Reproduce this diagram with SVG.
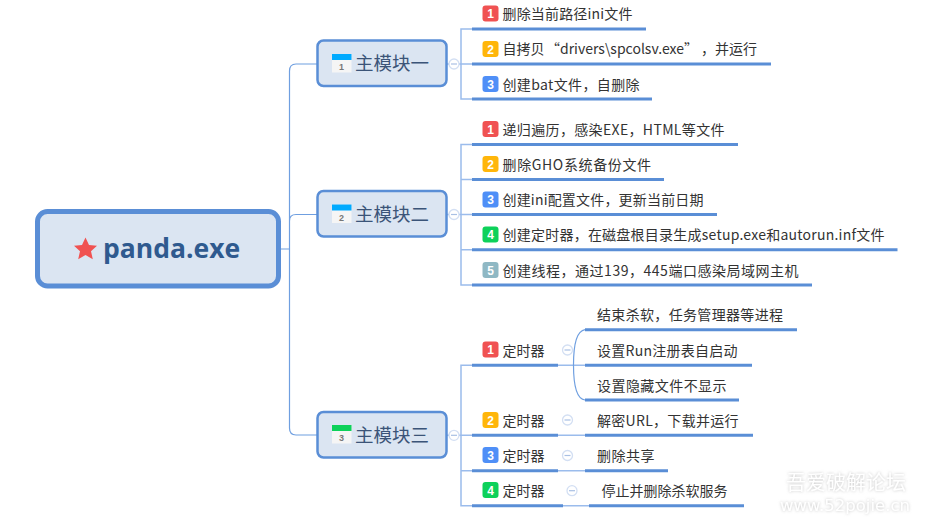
<svg xmlns="http://www.w3.org/2000/svg" width="925" height="524" viewBox="0 0 925 524">
<style>
text{font-family:"Noto Sans CJK SC","Noto Sans",sans-serif}
.root{fill:#dbe5f2;stroke:#5a8ed6;stroke-width:5}
.mod{fill:#dbe5f2;stroke:#5a8ed6;stroke-width:2.5}
.mt{font-size:18.5px;fill:#3b5478}
.lt{font-size:14px;fill:#333}
.ul{stroke:#5a8ed6;stroke-width:3;fill:none}
.c1{stroke:#6f9fe0;stroke-width:1.2;fill:none}
.c2{stroke:#9bbcec;stroke-width:1.5;fill:none}
.bn{font-family:"Liberation Sans",sans-serif;font-size:12px;font-weight:bold;fill:#fff;text-anchor:middle}
.tog{fill:#fff;stroke:#d3dff3;stroke-width:1.3}
.togm{stroke:#a9c0e4;stroke-width:1.2}
.ib{fill:#f5f5f5}
.in{font-family:"Liberation Sans",sans-serif;font-size:9px;font-weight:bold;fill:#777;text-anchor:middle}
.r{fill:#f05252}.o{fill:#ffb60a}.b{fill:#4f8ff7}.g{fill:#0dd15a}.t{fill:#8fb8c4}
.wm{fill:#fff;filter:url(#sh);text-anchor:middle}
</style>
<defs>
<filter id="sh" x="-10%" y="-30%" width="120%" height="160%"><feDropShadow dx="0" dy="0" stdDeviation="1.8" flood-color="#aaa" flood-opacity="0.7"/></filter>
</defs>
<rect width="925" height="524" fill="#fff"/>
<g id="connectors">
<path class="c1" d="M281 249H289.5M317 64H296Q289.5 64 289.5 71V428Q289.5 435 296 435H317M317 214.500H296Q289.500 214.500 289.500 221"/>
<path class="c2" d="M447 64H461M472 29H461V99H472M461 64H472"/>
<path class="c2" d="M447 214.500H461M472 144.500H461V285H472M461 179.500H472M461 214.500H472M461 249.800H472"/>
<path class="c2" d="M447 435.300H461M472 365.300H461V505.800H472M461 435.300H472M461 470.700H472"/>
<path class="c2" d="M558 365.300H585M558 435.300H585M558 470.700H585M563 505.800H589"/>
<path class="c1" d="M585 329.700C576 331 573.500 345 573.500 365C573.500 385 576 399 585 400"/>
</g>
<g id="root"><rect class="root" x="37.500" y="211.500" width="241" height="74.500" rx="10"/>
<path class="r" d="M85.500 237.500l3.500 7.500 8 .8-6 5.400 1.800 8-7.300-4.200-7.300 4.200 1.800-8-6-5.400 8-.8z"/>
<text x="103" y="258" font-size="26.500" font-weight="700" fill="#2f5a8f" style="font-family:'Open Sans',sans-serif">panda.exe</text></g>

<g id="module1"><rect class="mod" x="317.500" y="40.500" width="129" height="45.500" rx="6"/><rect class="ib" x="332" y="54" width="19.500" height="18.500"/><rect x="332" y="54" width="19.500" height="6" fill="#00aaff"/><text class="in" x="341.500" y="70">1</text><text class="mt" x="355" y="70">主模块一</text></g>
<g id="module2"><rect class="mod" x="317.500" y="191" width="129" height="45.500" rx="6"/><rect class="ib" x="332" y="204.500" width="19.500" height="18.500"/><rect x="332" y="204.500" width="19.500" height="6" fill="#00aaff"/><text class="in" x="341.500" y="220.500">2</text><text class="mt" x="355" y="220.500">主模块二</text></g>
<g id="module3"><rect class="mod" x="317.500" y="412" width="129" height="45.500" rx="6"/><rect class="ib" x="332" y="425" width="19.500" height="18.500"/><rect x="332" y="425" width="19.500" height="6" fill="#0dd15a"/><text class="in" x="341.500" y="441">3</text><text class="mt" x="355" y="441.500">主模块三</text></g>

<g id="toggles">
<circle class="tog" cx="454" cy="64" r="5"/><path class="togm" d="M451 64h6"/>
<circle class="tog" cx="454" cy="214.500" r="5"/><path class="togm" d="M451 214.500h6"/>
<circle class="tog" cx="454" cy="435.300" r="5"/><path class="togm" d="M451 435.300h6"/>
<circle class="tog" cx="567.500" cy="350" r="5"/><path class="togm" d="M564.500 350h6"/>
<circle class="tog" cx="567.500" cy="420" r="5"/><path class="togm" d="M564.500 420h6"/>
<circle class="tog" cx="567.500" cy="455.500" r="5"/><path class="togm" d="M564.500 455.500h6"/>
<circle class="tog" cx="572" cy="490.700" r="5"/><path class="togm" d="M569 490.700h6"/>
</g>

<g id="m1-1"><path class="ul" d="M472 29H646"/><rect class="r" x="482.500" y="5.500" width="16" height="16" rx="3"/><text class="bn" x="490.500" y="18">1</text><text class="lt" x="502.500" y="19" textLength="130" lengthAdjust="spacing">删除当前路径ini文件</text></g>
<g id="m1-2"><path class="ul" d="M472 64H771"/><rect class="o" x="482.500" y="41" width="16" height="16" rx="3"/><text class="bn" x="490.500" y="53.500">2</text><text class="lt" x="502.500" y="54">自拷贝<tspan x="546">“drivers\spcolsv.exe”</tspan><tspan x="701">，并运行</tspan></text></g>
<g id="m1-3"><path class="ul" d="M472 99H652"/><rect class="b" x="482.500" y="76" width="16" height="16" rx="3"/><text class="bn" x="490.500" y="88.500">3</text><text class="lt" x="502.500" y="89.500" textLength="137" lengthAdjust="spacing">创建bat文件，自删除</text></g>

<g id="m2-1"><path class="ul" d="M472 144.500H738"/><rect class="r" x="482.500" y="121" width="16" height="16" rx="3"/><text class="bn" x="490.500" y="133.500">1</text><text class="lt" x="502.500" y="134.500" textLength="222" lengthAdjust="spacing">递归遍历，感染EXE，HTML等文件</text></g>
<g id="m2-2"><path class="ul" d="M472 179.500H664"/><rect class="o" x="482.500" y="156" width="16" height="16" rx="3"/><text class="bn" x="490.500" y="168.500">2</text><text class="lt" x="502.500" y="169.500" textLength="148.500" lengthAdjust="spacing">删除GHO系统备份文件</text></g>
<g id="m2-3"><path class="ul" d="M472 214.500H717"/><rect class="b" x="482.500" y="191.500" width="16" height="16" rx="3"/><text class="bn" x="490.500" y="204">3</text><text class="lt" x="502.500" y="205" textLength="201" lengthAdjust="spacing">创建ini配置文件，更新当前日期</text></g>
<g id="m2-4"><path class="ul" d="M472 249.800H897.500"/><rect class="g" x="482.500" y="226.500" width="16" height="16" rx="3"/><text class="bn" x="490.500" y="239">4</text><text class="lt" x="502.500" y="240" textLength="382" lengthAdjust="spacing">创建定时器，在磁盘根目录生成setup.exe和autorun.inf文件</text></g>
<g id="m2-5"><path class="ul" d="M472 285H812"/><rect class="t" x="482.500" y="262" width="16" height="16" rx="3"/><text class="bn" x="490.500" y="274.500">5</text><text class="lt" x="502.500" y="275.500" textLength="296" lengthAdjust="spacing">创建线程，通过139，445端口感染局域网主机</text></g>

<g id="m3-1"><path class="ul" d="M472 365.300H558"/><rect class="r" x="482.500" y="341.500" width="16" height="16" rx="3"/><text class="bn" x="490.500" y="354">1</text><text class="lt" x="502.500" y="355.500">定时器</text></g>
<g id="m3-2"><path class="ul" d="M472 435.300H558"/><rect class="o" x="482.500" y="412" width="16" height="16" rx="3"/><text class="bn" x="490.500" y="424.500">2</text><text class="lt" x="502.500" y="425.500">定时器</text></g>
<g id="m3-3"><path class="ul" d="M472 470.700H558"/><rect class="b" x="482.500" y="447" width="16" height="16" rx="3"/><text class="bn" x="490.500" y="459.500">3</text><text class="lt" x="502.500" y="461">定时器</text></g>
<g id="m3-4"><path class="ul" d="M472 505.800H563"/><rect class="g" x="482.500" y="482" width="16" height="16" rx="3"/><text class="bn" x="490.500" y="494.500">4</text><text class="lt" x="502.500" y="496">定时器</text></g>

<g id="t1-1"><path class="ul" d="M585 329.700H797"/><text class="lt" x="597" y="320" textLength="186" lengthAdjust="spacing">结束杀软，任务管理器等进程</text></g>
<g id="t1-2"><path class="ul" d="M585 365.300H752"/><text class="lt" x="597" y="356" textLength="140.500" lengthAdjust="spacing">设置Run注册表自启动</text></g>
<g id="t1-3"><path class="ul" d="M585 400H739"/><text class="lt" x="597" y="391" textLength="129.500" lengthAdjust="spacing">设置隐藏文件不显示</text></g>
<g id="t2-1"><path class="ul" d="M585 435.300H753"/><text class="lt" x="597" y="426" textLength="141.500" lengthAdjust="spacing">解密URL，下载并运行</text></g>
<g id="t3-1"><path class="ul" d="M585 470.700H668"/><text class="lt" x="597" y="461" textLength="57.500" lengthAdjust="spacing">删除共享</text></g>
<g id="t4-1"><path class="ul" d="M589 505.800H744"/><text class="lt" x="601.500" y="496">停止并删除杀软服务</text></g>

<g id="watermark"><text class="wm" x="846" y="490" font-size="20">吾爱破解论坛</text><text class="wm" x="845" y="511" font-size="16.500" style="font-family:'DejaVu Sans',sans-serif">www.52pojie.cn</text></g>
</svg>
